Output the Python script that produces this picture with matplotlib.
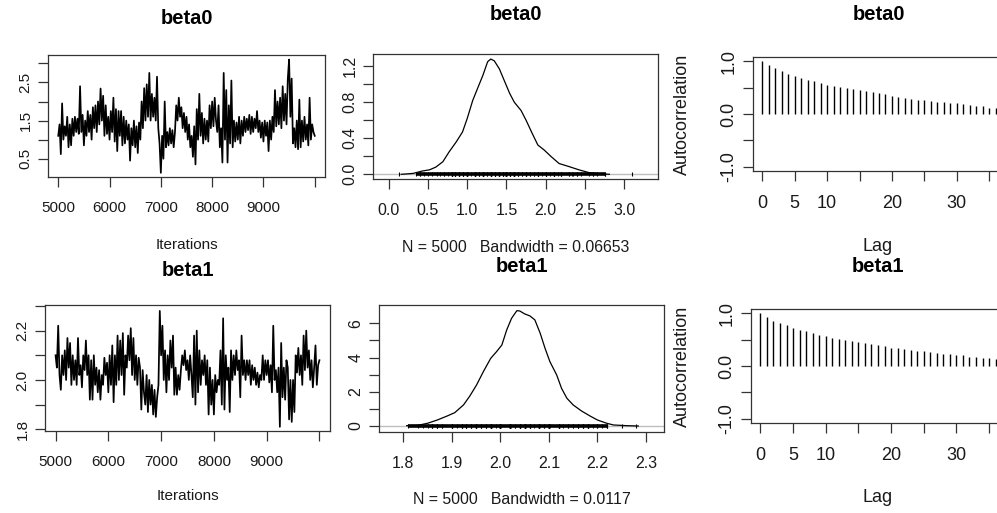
"""MCMC diagnostics for beta0 / beta1: trace, density and autocorrelation panels."""

import matplotlib
matplotlib.use("Agg")
import matplotlib.pyplot as plt
import numpy as np

plt.rcParams["font.family"] = ["Liberation Sans", "DejaVu Sans"]

W, H = 997, 513

TRACE_BETA0 = [
    1.1, 1.4, 0.62, 1.95, 1.0, 1.35, 1.1, 1.6, 0.8, 1.4, 0.85, 1.55,
    1.1, 1.6, 1.2, 1.55, 1.15, 2.4, 1.2, 1.65, 0.85, 1.5, 1.1, 1.75,
    1.2, 1.65, 1.0, 1.85, 1.3, 1.9, 1.2, 2.0, 1.4, 2.34, 1.5, 2.15,
    1.1, 1.9, 1.15, 1.6, 1.0, 1.75, 1.2, 2.1, 0.95, 1.8, 0.7, 1.75,
    1.1, 1.75, 0.85, 1.6, 0.9, 1.5, 1.0, 1.4, 0.45, 1.3, 0.85, 1.5,
    0.8, 1.35, 0.65, 1.45, 1.0, 2.0, 1.3, 2.35, 1.5, 2.45, 1.6, 2.75,
    1.5, 2.2, 1.6, 2.1, 1.5, 2.65, 1.3, 0.9, 0.13, 1.1, 0.5, 2.0,
    0.8, 1.2, 0.85, 1.3, 0.9, 1.25, 0.8, 1.2, 1.9, 1.5, 2.1, 1.6,
    1.85, 1.3, 1.7, 1.2, 1.6, 1.0, 1.4, 0.8, 1.1, 0.55, 1.35, 0.35,
    1.8, 1.0, 2.2, 1.1, 1.7, 0.9, 1.55, 1.0, 1.5, 0.95, 1.9, 1.3,
    2.0, 1.35, 2.1, 1.5, 1.2, 1.9, 0.8, 1.3, 0.4, 2.75, 1.0, 2.3,
    0.4, 1.9, 0.9, 2.55, 0.8, 1.5, 0.95, 1.45, 1.0, 1.6, 0.9, 1.5,
    1.1, 1.6, 1.2, 1.55, 1.25, 1.65, 1.15, 1.6, 1.2, 1.55, 1.3, 1.75,
    1.2, 1.5, 1.05, 1.45, 0.95, 1.5, 1.1, 1.45, 0.7, 1.5, 1.0, 1.6,
    1.2, 2.3, 1.35, 2.0, 1.4, 2.1, 1.3, 2.4, 1.5, 2.2, 1.4, 2.6,
    3.1, 1.6, 2.6, 0.9, 1.3, 0.8, 1.5, 0.75, 2.05, 0.8, 1.5, 0.95,
    1.6, 1.0, 1.4, 0.85, 2.1, 1.0, 1.4, 1.2, 1.1,
]
TRACE_BETA1 = [
    2.1, 2.05, 2.22, 2.02, 1.96, 2.1, 2.02, 2.12, 2.0, 2.17, 2.05, 2.15,
    1.98, 2.1, 2.0, 2.08, 1.98, 2.17, 2.02, 2.06, 1.97, 2.1, 2.04, 2.16,
    2.02, 2.1, 1.92, 2.08, 1.92, 2.1, 1.98, 2.05, 1.95, 2.04, 1.92, 2.02,
    1.98, 2.09, 2.02, 2.07, 1.95, 2.1, 1.98, 2.14, 1.91, 2.1, 1.98, 2.18,
    2.0, 2.16, 2.02, 2.19, 1.94, 2.1, 2.05, 2.18, 2.08, 2.21, 2.02, 2.17,
    2.0, 2.1, 1.98, 2.09, 2.05, 1.88, 2.04, 1.95, 1.9, 2.02, 1.87, 2.0,
    1.9, 1.98, 1.86, 1.96, 1.85, 1.93, 1.98, 2.28, 2.1, 2.22, 2.0, 2.12,
    1.95, 2.1, 2.0, 2.16, 2.05, 2.18, 1.94, 2.05, 1.94, 2.02, 1.96, 2.04,
    2.1, 2.06, 2.12, 2.04, 2.08, 2.0, 2.1, 2.02, 1.93, 2.18, 1.9, 2.2,
    1.95, 2.12, 1.98, 2.08, 2.02, 2.1, 1.98, 2.08, 1.86, 2.05, 1.9, 2.0,
    1.86, 2.02, 1.95, 2.0, 1.98, 2.12, 1.9, 2.25, 1.88, 2.1, 2.0, 2.05,
    1.87, 2.12, 2.0, 2.1, 2.02, 2.12, 2.04, 2.08, 1.93, 2.18, 2.02, 2.08,
    2.0, 2.08, 2.02, 2.08, 1.98, 2.06, 2.0, 2.05, 1.98, 2.03, 1.97, 2.02,
    2.0, 2.1, 2.0, 2.08, 2.02, 2.08, 1.99, 2.06, 1.95, 2.22, 2.0, 2.04,
    1.95, 2.05, 1.81, 2.15, 1.93, 2.05, 1.92, 2.08, 2.05, 1.84, 2.0, 1.83,
    2.0, 1.87, 2.1, 2.03, 2.13, 2.02, 2.1, 1.98, 2.18, 2.04, 2.2, 2.05,
    2.12, 2.0, 2.08, 1.97, 2.05, 2.14, 1.98, 2.06, 2.08,
]

# kernel density curves
DENS_X_BETA0 = [0.16, 0.31, 0.43, 0.52, 0.60, 0.69, 0.77, 0.86, 0.94, 1.0, 1.07,
                1.13, 1.2, 1.26, 1.30, 1.345, 1.41, 1.47, 1.54, 1.60, 1.685, 1.75,
                1.83, 1.90, 1.98, 2.07, 2.17, 2.30, 2.43, 2.555, 2.68, 2.81]
DENS_Y_BETA0 = [0.0, 0.01, 0.037, 0.05, 0.08, 0.14, 0.25, 0.36, 0.47, 0.62, 0.82,
                0.95, 1.10, 1.25, 1.28, 1.26, 1.17, 1.045, 0.90, 0.80, 0.71, 0.60,
                0.45, 0.325, 0.27, 0.196, 0.12, 0.085, 0.048, 0.018, 0.007, 0.0]
DENS_X_BETA1 = [1.807, 1.83, 1.85, 1.87, 1.89, 1.906, 1.924, 1.937, 1.951, 1.965,
                1.98, 1.992, 2.003, 2.013, 2.023, 2.034, 2.04, 2.05, 2.061, 2.071,
                2.082, 2.092, 2.102, 2.116, 2.126, 2.137, 2.15, 2.167, 2.185, 2.2,
                2.219, 2.233, 2.26, 2.284]
DENS_Y_BETA1 = [0.02, 0.04, 0.16, 0.35, 0.58, 0.78, 1.23, 1.75, 2.4, 3.18, 3.95,
                4.34, 4.73, 5.61, 6.29, 6.74, 6.72, 6.55, 6.43, 6.2, 5.42, 4.54,
                3.76, 2.98, 2.2, 1.62, 1.23, 0.88, 0.58, 0.35, 0.16, 0.06, 0.02, 0.0]
BW_LABELS = ["N = 5000   Bandwidth = 0.06653", "N = 5000   Bandwidth = 0.0117"]

# autocorrelation, lags 0..36
ACF_BETA0 = [1.0, 0.93, 0.87, 0.81, 0.76, 0.72, 0.68, 0.64, 0.62, 0.58, 0.55,
             0.53, 0.51, 0.49, 0.47, 0.45, 0.43, 0.41, 0.39, 0.37, 0.34, 0.32,
             0.30, 0.29, 0.27, 0.26, 0.25, 0.235, 0.22, 0.21, 0.20, 0.18, 0.17,
             0.16, 0.15, 0.12, 0.11]
ACF_BETA1 = [1.0, 0.93, 0.85, 0.81, 0.77, 0.72, 0.68, 0.66, 0.62, 0.59, 0.56,
             0.54, 0.52, 0.49, 0.47, 0.46, 0.43, 0.41, 0.39, 0.37, 0.35, 0.34,
             0.33, 0.31, 0.29, 0.28, 0.27, 0.25, 0.23, 0.22, 0.21, 0.20, 0.18,
             0.17, 0.16, 0.15, 0.13]

PARAMS = ["beta0", "beta1"]

# axes boxes in pixels: left, top, right, bottom
BOXES = {
    ("trace", 0): (48, 55, 325, 177),
    ("dens", 0): (373, 54, 658, 179),
    ("acf", 0): (753, 57, 1005, 171),
    ("trace", 1): (45, 305, 330, 431),
    ("dens", 1): (379, 305, 664, 432),
    ("acf", 1): (751, 309, 1005, 423),
}

FS = 11
FS_ACF = 13
TXT = "#1a1a1a"


def add_axes(fig, box, fs=FS):
    l, t, r, b = box
    ax = fig.add_axes([l / W, 1 - b / H, (r - l) / W, (b - t) / H])
    for s in ax.spines.values():
        s.set_linewidth(0.9)
        s.set_color("#333333")
    ax.tick_params(direction="out", length=7, width=0.9, color="#333333",
                   labelsize=fs, labelcolor=TXT)
    ax.tick_params(axis="x", pad=10)
    ax.tick_params(axis="y", pad=4)
    return ax


def ylabels_rotated(ax, ticks, labels):
    ax.set_yticks(ticks)
    ax.set_yticklabels(labels, rotation=90, va="center")


def fig_text(fig, x, y, s, **kw):
    fig.text(x / W, 1 - y / H, s, ha="center", va="center", **kw)


def title(fig, box, y, s):
    fig_text(fig, (box[0] + box[2]) / 2, y, s, fontsize=14.5, fontweight="bold", color="black")


def rug(ax, vals, gap):
    """Samples at y=0; close neighbours merge into the solid band R gives with 5000 draws."""
    s = np.sort(vals)
    ax.plot(s, np.zeros_like(s), "|", color="black", ms=3, mew=0.8)
    xs, ys = [], []
    for a, b in zip(s[:-1], s[1:]):
        if b - a < gap:
            xs += [a, b, np.nan]
            ys += [0, 0, np.nan]
    ax.plot(xs, ys, color="black", lw=2.6, solid_capstyle="butt")


def main():
    fig = plt.figure(figsize=(W / 100, H / 100), dpi=100)
    traces = [TRACE_BETA0, TRACE_BETA1]
    dens_x = [DENS_X_BETA0, DENS_X_BETA1]
    dens_y = [DENS_Y_BETA0, DENS_Y_BETA1]
    acfs = [ACF_BETA0, ACF_BETA1]
    row_y = [0, 251]

    for i, p in enumerate(PARAMS):
        vals = np.array(traces[i])
        iters = np.linspace(5000, 10000, len(vals))

        # trace
        box = BOXES[("trace", i)]
        ax = add_axes(fig, box)
        ax.plot(iters, vals, color="black", lw=1.25)
        ax.set_xlim(4800, 10200)
        ax.set_xticks(np.arange(5000, 10001, 1000))
        ax.set_xticklabels(["5000", "6000", "7000", "8000", "9000", ""])
        if i == 0:
            ax.set_ylim(0.02, 3.22)
            ylabels_rotated(ax, [0.5, 1.0, 1.5, 2.0, 2.5, 3.0], ["0.5", "", "1.5", "", "2.5", ""])
        else:
            ax.set_ylim(1.793, 2.304)
            ylabels_rotated(ax, [1.8, 1.9, 2.0, 2.1, 2.2, 2.3], ["1.8", "", "2.0", "", "2.2", ""])
        title(fig, box, 19 + row_y[i], p)
        fig_text(fig, (box[0] + box[2]) / 2, 245 + row_y[i], "Iterations", fontsize=FS, color=TXT)

        # density
        box = BOXES[("dens", i)]
        ax = add_axes(fig, box, fs=11.5)
        ax.axhline(0, color="#bebebe", lw=1.0)
        ax.plot(dens_x[i], dens_y[i], color="black", lw=0.9)
        if i == 0:
            rug(ax, vals, 0.15)
            ax.set_xlim(-0.2, 3.43)
            ax.set_ylim(-0.052, 1.336)
            ax.set_xticks(np.arange(0, 3.01, 0.5))
            ax.set_xticklabels(["0.0", "0.5", "1.0", "1.5", "2.0", "2.5", "3.0"])
            ylabels_rotated(ax, [0, 0.2, 0.4, 0.6, 0.8, 1.0, 1.2],
                            ["0.0", "", "0.4", "", "0.8", "", "1.2"])
        else:
            rug(ax, vals, 0.025)
            ax.set_xlim(1.75, 2.337)
            ax.set_ylim(-0.35, 7.07)
            ax.set_xticks([1.8, 1.9, 2.0, 2.1, 2.2, 2.3])
            ax.set_xticklabels(["1.8", "1.9", "2.0", "2.1", "2.2", "2.3"])
            ylabels_rotated(ax, [0, 1, 2, 3, 4, 5, 6], ["0", "", "2", "", "4", "", "6"])
        title(fig, box, 15 + row_y[i], p)
        fig_text(fig, (box[0] + box[2]) / 2, 248 + row_y[i], BW_LABELS[i], fontsize=11.4, color=TXT)

        # autocorrelation
        box = BOXES[("acf", i)]
        ax = add_axes(fig, box, fs=FS_ACF)
        lags = np.arange(len(acfs[i]))
        ax.vlines(lags, 0, acfs[i], color="black", lw=1.0)
        ax.set_xlim(-1.44, 37.44)
        ax.set_ylim(-1.08, 1.08)
        ax.set_xticks(np.arange(0, 36, 5))
        ax.set_xticklabels(["0", "5", "10", "", "20", "", "30", ""])
        ylabels_rotated(ax, [-1.0, -0.5, 0.0, 0.5, 1.0], ["-1.0", "", "0.0", "", "1.0"])
        fig_text(fig, 682, (box[1] + box[3]) / 2, "Autocorrelation", fontsize=FS_ACF,
                 color=TXT, rotation=90)
        title(fig, box, 15 + row_y[i], p)
        fig_text(fig, 878, 247 + row_y[i], "Lag", fontsize=FS_ACF, color=TXT)

    fig.savefig("out.png", dpi=100)
    plt.close(fig)


if __name__ == "__main__":
    main()
